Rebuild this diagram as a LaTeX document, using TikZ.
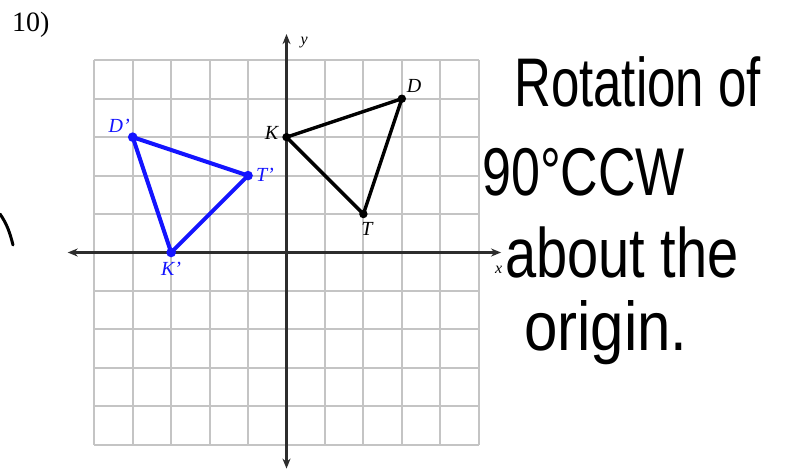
\documentclass[tikz,border=0pt]{standalone}
\usepackage{fontspec}
\setmainfont{Liberation Serif}
\newfontfamily\hand{Liberation Sans}
\usetikzlibrary{arrows.meta}
\definecolor{gridgray}{RGB}{196,196,196}
\definecolor{axisgray}{RGB}{45,45,45}
\definecolor{myblue}{RGB}{20,20,255}
\tikzset{
  gridline/.style={draw=gridgray, line width=2pt},
  axisline/.style={draw=axisgray, line width=2.2pt, {Stealth[length=10pt,width=8pt]}-{Stealth[length=10pt,width=8pt]}},
  tri/.style={line width=3.4pt, line join=round},
  lbl/.style={inner sep=0pt, font=\fontsize{20}{22}\selectfont\itshape},
  axlbl/.style={inner sep=0pt, font=\fontsize{16}{18}\selectfont\itshape},
  hw/.style={inner sep=0pt, anchor=base west, text=black},
}
\begin{document}
\begin{tikzpicture}[x=1pt,y=-1pt]
\useasboundingbox (0,0) rectangle (786,472);
\fill[white] (0,0) rectangle (786,472);
\node[anchor=base west, inner sep=0pt, font=\fontsize{28}{30}\selectfont] (num) at (12,31) {10)};

\begin{scope}[shift={(286.5pt,-252.5pt)}, x=38.45pt, y=38.45pt]
  \foreach \i in {-5,...,5} {
    \draw[gridline] (\i,-5) -- (\i,5);
    \draw[gridline] (-5,\i) -- (5,\i);
  }
  \coordinate (xl) at (-5.69,0);
  \coordinate (xr) at (5.58,0);
  \coordinate (yt) at (0,5.68);
  \coordinate (yb) at (0,-5.62);
  \draw[axisline] (xl) -- (xr);
  \draw[axisline] (yb) -- (yt);
  \node[axlbl] (ylab) at (0.46,5.47) {y};
  \node[axlbl] (xlab) at (5.52,-0.46) {x};

  \coordinate (K) at (0,3);
  \coordinate (D) at (3,4);
  \coordinate (T) at (2,1);
  \coordinate (K1) at (-3,0);
  \coordinate (D1) at (-4,3);
  \coordinate (T1) at (-1,2);

  \draw[tri, black] (K) -- (D) -- (T) -- cycle;
  \foreach \p in {K,D,T} \fill[black] (\p) circle (4.2pt);
  \draw[tri, myblue, line width=4pt] (K1) -- (D1) -- (T1) -- cycle;
  \foreach \p in {K1,D1,T1} \fill[myblue] (\p) circle (4.8pt);

  \node[lbl] (Klab) at (-0.39,3.11) {K};
  \node[lbl] (Dlab) at (3.32,4.33) {D};
  \node[lbl] (Tlab) at (2.09,0.62) {T};
  \node[lbl, text=myblue] (D1lab) at (-4.35,3.29) {D'};
  \node[lbl, text=myblue] (T1lab) at (-0.56,2.02) {T'};
  \node[lbl, text=myblue] (K1lab) at (-3.0,-0.42) {K'};
\end{scope}

\node[hw, font=\hand\fontsize{51}{55}\selectfont] (h1) at (514,106) {\scalebox{1}[1.35]{Rotation of}};
\node[hw, font=\hand\fontsize{52}{55}\selectfont] (h2) at (482,195) {\scalebox{1}[1.3]{90°CCW}};
\node[hw, font=\hand\fontsize{56}{60}\selectfont] (h3) at (505,277) {\scalebox{1}[1.25]{about the}};
\node[hw, font=\hand\fontsize{60}{64}\selectfont] (h4) at (524,350) {\scalebox{1}[1.15]{origin.}};

\draw[line width=3pt, line cap=round] (0,214) .. controls (7,224) and (10,233) .. (13,245);
\end{tikzpicture}
\end{document}
